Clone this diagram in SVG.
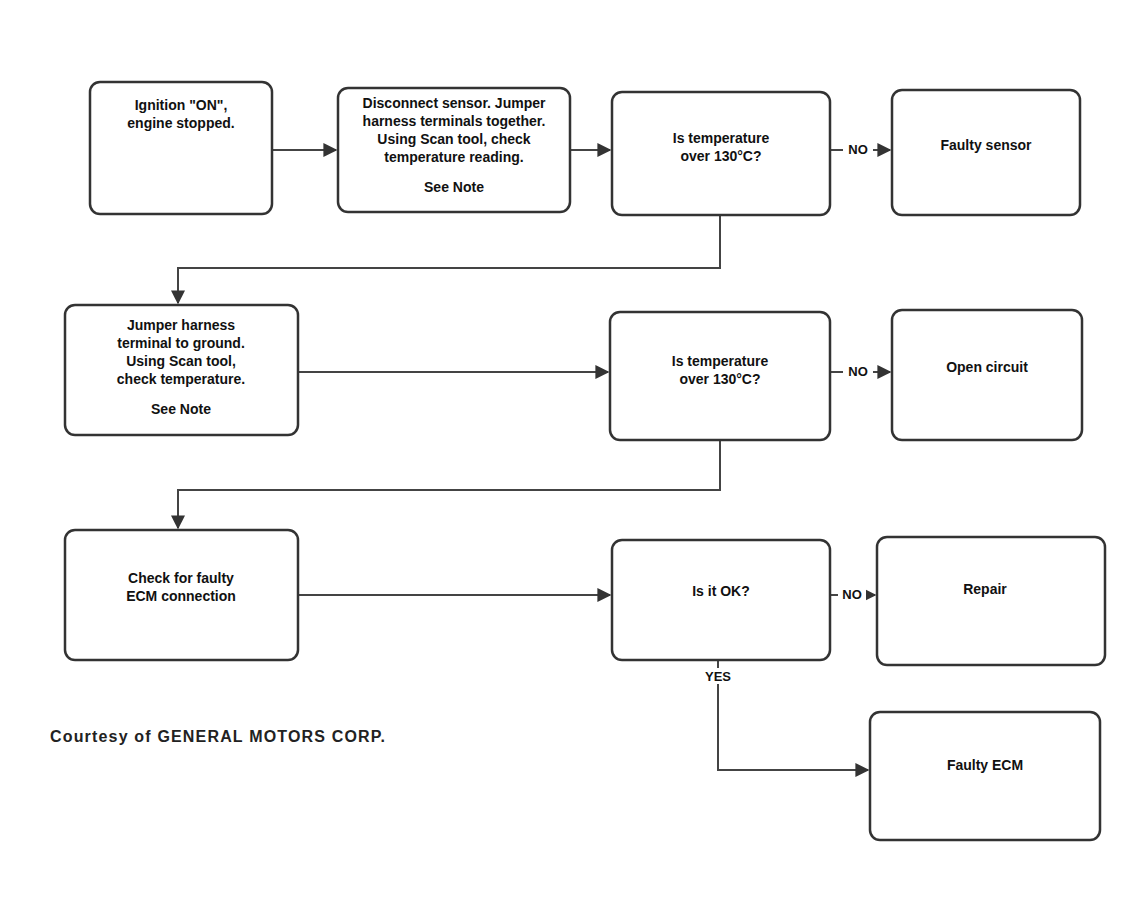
<svg xmlns="http://www.w3.org/2000/svg" width="1138" height="911" viewBox="0 0 1138 911">
<style>
.box{fill:#fff;stroke:#333;stroke-width:2.5}
.t{font-family:"Liberation Sans",Arial,sans-serif;font-size:14px;font-weight:bold;fill:#111;text-anchor:middle}
.c{fill:none;stroke:#444;stroke-width:2}
.lbl{font-family:"Liberation Sans",Arial,sans-serif;font-size:13px;font-weight:bold;fill:#111;text-anchor:middle}
</style>
<defs>
<marker id="ah" viewBox="0 0 10 10" refX="9" refY="5" markerWidth="7" markerHeight="7" orient="auto"><path d="M0,0 L10,5 L0,10 z" fill="#333"/></marker>
</defs>
<rect width="1138" height="911" fill="#fff"/>
<g id="connectors">
<line class="c" x1="272" y1="150" x2="336" y2="150" marker-end="url(#ah)"/>
<line class="c" x1="570" y1="150" x2="610" y2="150" marker-end="url(#ah)"/>
<line class="c" x1="830" y1="150" x2="890" y2="150" marker-end="url(#ah)"/>
<path class="c" d="M720,215 V268 H178 V303" marker-end="url(#ah)"/>
<line class="c" x1="298" y1="372" x2="608" y2="372" marker-end="url(#ah)"/>
<line class="c" x1="830" y1="372" x2="890" y2="372" marker-end="url(#ah)"/>
<path class="c" d="M720,440 V490 H178 V528" marker-end="url(#ah)"/>
<line class="c" x1="298" y1="595" x2="610" y2="595" marker-end="url(#ah)"/>
<line class="c" x1="830" y1="595" x2="875" y2="595" marker-end="url(#ah)"/>
<path class="c" d="M718,660 V770 H868" marker-end="url(#ah)"/>
<rect x="843" y="140" width="30" height="18" fill="#fff"/>
<text class="lbl" x="858" y="154">NO</text>
<rect x="843" y="362" width="30" height="18" fill="#fff"/>
<text class="lbl" x="858" y="376">NO</text>
<rect x="838" y="585" width="28" height="18" fill="#fff"/>
<text class="lbl" x="852" y="599">NO</text>
<rect x="700" y="668" width="36" height="16" fill="#fff"/>
<text class="lbl" x="718" y="681">YES</text>
</g>
<g id="nA"><rect class="box" x="90" y="82" width="182" height="132" rx="10"/>
<text class="t" x="181" y="110">Ignition "ON",</text><text class="t" x="181" y="128">engine stopped.</text></g>
<g id="nB"><rect class="box" x="338" y="88" width="232" height="124" rx="10"/>
<text class="t" x="454" y="108">Disconnect sensor. Jumper</text><text class="t" x="454" y="126">harness terminals together.</text><text class="t" x="454" y="144">Using Scan tool, check</text><text class="t" x="454" y="162">temperature reading.</text><text class="t" x="454" y="192">See Note</text></g>
<g id="nC"><rect class="box" x="612" y="92" width="218" height="123" rx="10"/>
<text class="t" x="721" y="143">Is temperature</text><text class="t" x="721" y="161">over 130°C?</text></g>
<g id="nD"><rect class="box" x="892" y="90" width="188" height="125" rx="10"/>
<text class="t" x="986" y="150">Faulty sensor</text></g>
<g id="nE"><rect class="box" x="65" y="305" width="233" height="130" rx="10"/>
<text class="t" x="181" y="330">Jumper harness</text><text class="t" x="181" y="348">terminal to ground.</text><text class="t" x="181" y="366">Using Scan tool,</text><text class="t" x="181" y="384">check temperature.</text><text class="t" x="181" y="414">See Note</text></g>
<g id="nF"><rect class="box" x="610" y="312" width="220" height="128" rx="10"/>
<text class="t" x="720" y="366">Is temperature</text><text class="t" x="720" y="384">over 130°C?</text></g>
<g id="nG"><rect class="box" x="892" y="310" width="190" height="130" rx="10"/>
<text class="t" x="987" y="372">Open circuit</text></g>
<g id="nH"><rect class="box" x="65" y="530" width="233" height="130" rx="10"/>
<text class="t" x="181" y="583">Check for faulty</text><text class="t" x="181" y="601">ECM connection</text></g>
<g id="nI"><rect class="box" x="612" y="540" width="218" height="120" rx="10"/>
<text class="t" x="721" y="596">Is it OK?</text></g>
<g id="nJ"><rect class="box" x="877" y="537" width="228" height="128" rx="10"/>
<text class="t" x="985" y="594">Repair</text></g>
<g id="nK"><rect class="box" x="870" y="712" width="230" height="128" rx="10"/>
<text class="t" x="985" y="770">Faulty ECM</text></g>
<text x="50" y="742" font-family="Liberation Sans,Arial,sans-serif" font-size="16" font-weight="bold" fill="#222" textLength="335" lengthAdjust="spacing">Courtesy of GENERAL MOTORS CORP.</text>
</svg>
